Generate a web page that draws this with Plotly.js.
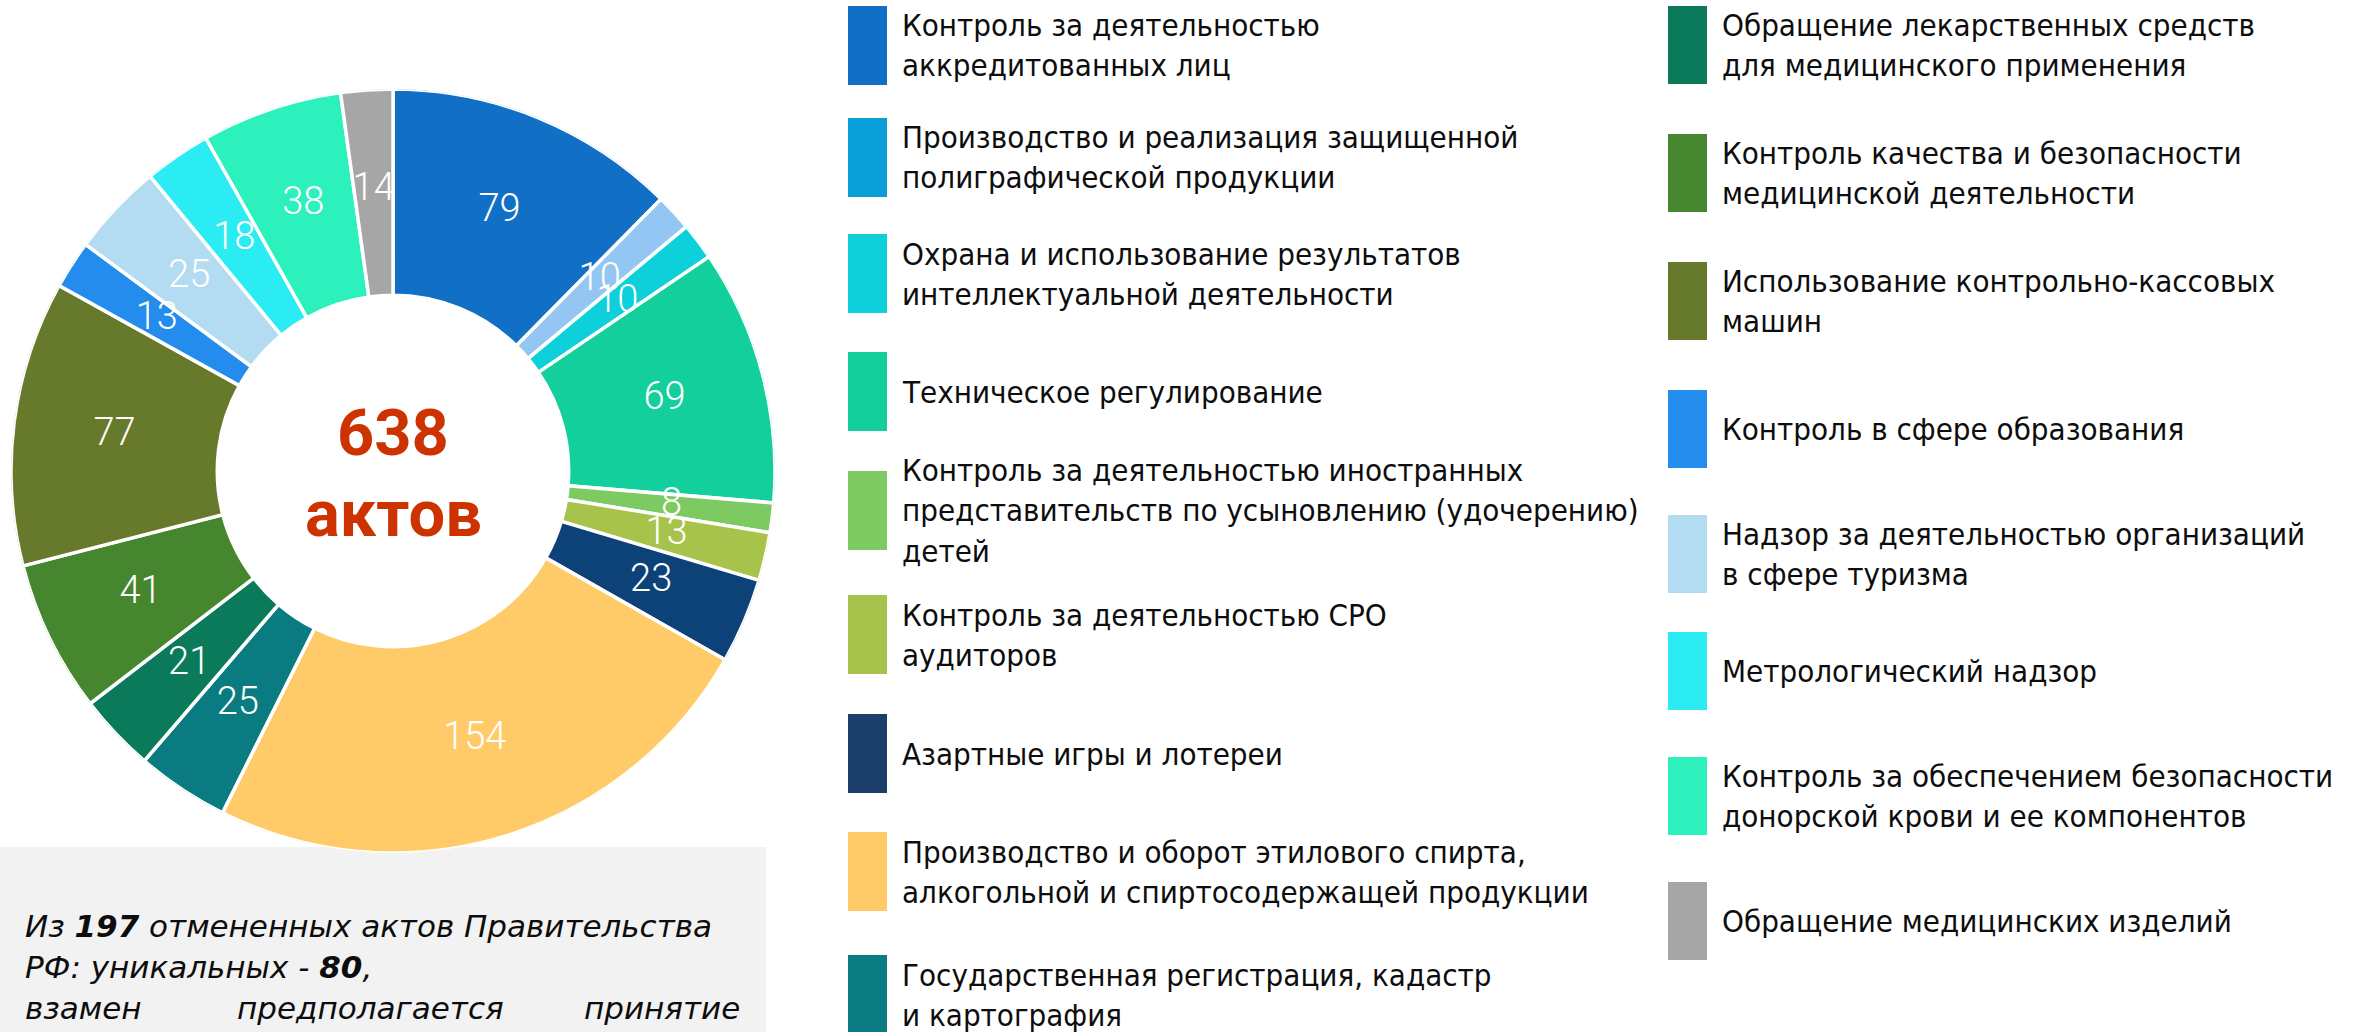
<!DOCTYPE html>
<html>
<head>
<meta charset="utf-8">
<script src="https://cdn.plot.ly/plotly-3.0.1.min.js"></script>
<style>
html, body { margin: 0; padding: 0; background: #ffffff; }
#chart { width: 2366px; height: 1032px; }
</style>
</head>
<body>
<div id="chart"></div>
<script>
// ---------------- DATA ----------------
const categories = [
  "Контроль за деятельностью<br>аккредитованных лиц",
  "Производство и реализация защищенной<br>полиграфической продукции",
  "Охрана и использование результатов<br>интеллектуальной деятельности",
  "Техническое регулирование",
  "Контроль за деятельностью иностранных<br>представительств по усыновлению (удочерению)<br>детей",
  "Контроль за деятельностью СРО<br>аудиторов",
  "Азартные игры и лотереи",
  "Производство и оборот этилового спирта,<br>алкогольной и спиртосодержащей продукции",
  "Государственная регистрация, кадастр<br>и картография",
  "Обращение лекарственных средств<br>для медицинского применения",
  "Контроль качества и безопасности<br>медицинской деятельности",
  "Использование контрольно-кассовых<br>машин",
  "Контроль в сфере образования",
  "Надзор за деятельностью организаций<br>в сфере туризма",
  "Метрологический надзор",
  "Контроль за обеспечением безопасности<br>донорской крови и ее компонентов",
  "Обращение медицинских изделий"
];
const values = [79, 10, 10, 69, 8, 13, 23, 154, 25, 21, 41, 77, 13, 25, 18, 38, 14];
const sliceColors = [
  "#1170C5", "#93C6F2", "#0DD0DB", "#12CF9B", "#7DCA62", "#A7C34B", "#0C4277",
  "#FECB68", "#0A7B80", "#0B7A5A", "#46862F", "#67792A", "#238CEC", "#B3DCF2",
  "#2BEBF3", "#2CF1BC", "#A6A6A6"
];
const legendColors = [
  "#1170C5", "#0A9ED8", "#0DD0DB", "#12CF9B", "#7DCA62", "#A7C34B", "#1B3F6A",
  "#FECB68", "#0A7B80", "#0B7A5A", "#46862F", "#67792A", "#238CEC", "#B3DCF2",
  "#2BEBF3", "#2CF1BC", "#A6A6A6"
];
const centerUnit = "актов";
const noteLine1 = "Из <b>197</b> отмененных актов Правительства";
const noteLine2 = "РФ: уникальных - <b>80</b>,";
const noteLine3Words = ["взамен", "предполагается", "принятие"];

// ---------------- LAYOUT CONSTANTS ----------------
const W = 2366, H = 1032;
const px = x => x / W;
const py = y => 1 - y / H;

const pieCx = 393, pieCy = 471, pieR = 382;
const holeFrac = 0.46;
const labelRadius = 0.735;

const col1 = { x0: 848, x1: 887, tx: 900, h: 79, tops: [6, 118, 234, 352, 471, 595, 714, 832, 955] };
const col2 = { x0: 1668, x1: 1707, tx: 1720, h: 78, tops: [6, 134, 262, 390, 515, 632, 757, 882] };

const legendFont = { family: "DejaVu Sans Condensed, DejaVu Sans, sans-serif", size: 31, color: "#0d0d0d" };
const noteFont = { family: "DejaVu Sans, sans-serif", size: 31, color: "#0d0d0d", style: "italic" };

// ---------------- DERIVED ----------------
const total = values.reduce((a, b) => a + b, 0);
const widths = values.map(v => v / total * 360);
const mids = [];
let cum = 0;
values.forEach(v => { mids.push((cum + v / 2) / total * 360); cum += v; });

const slices = {
  type: "barpolar",
  theta: mids,
  width: widths,
  r: values.map(() => 1 - holeFrac),
  base: values.map(() => holeFrac),
  text: categories,
  marker: { color: sliceColors, line: { color: "#ffffff", width: 3.5 } },
  hovertemplate: "%{text}: %{customdata}<extra></extra>",
  customdata: values,
  showlegend: false
};

const labels = {
  type: "scatterpolar",
  mode: "text",
  theta: mids,
  r: values.map(() => labelRadius),
  text: values.map(String),
  textposition: "middle center",
  textfont: { family: "Roboto, sans-serif", weight: 300, size: 38, color: "#ffffff" },
  hoverinfo: "skip",
  cliponaxis: false,
  showlegend: false
};

const shapes = [];
const annotations = [];

// note box
shapes.push({ type: "rect", xref: "paper", yref: "paper", layer: "below",
  x0: px(0), x1: px(766), y0: py(1032), y1: py(847),
  fillcolor: "#F2F2F2", line: { width: 0 } });

// legend
categories.forEach((cat, i) => {
  const col = i < col1.tops.length ? col1 : col2;
  const k = i < col1.tops.length ? i : i - col1.tops.length;
  const top = col.tops[k];
  shapes.push({ type: "rect", xref: "paper", yref: "paper",
    x0: px(col.x0), x1: px(col.x1), y0: py(top + col.h), y1: py(top),
    fillcolor: legendColors[i], line: { width: 0 } });
  annotations.push({ xref: "paper", yref: "paper", x: px(col.tx), y: py(top + col.h / 2),
    xanchor: "left", yanchor: "middle", align: "left", showarrow: false,
    text: cat, font: legendFont });
});

// centre total
annotations.push({ xref: "paper", yref: "paper", x: px(pieCx), y: py(433),
  xanchor: "center", yanchor: "middle", showarrow: false, text: String(total),
  font: { family: "Roboto, sans-serif", weight: 700, size: 65, color: "#CC3300" } });
annotations.push({ xref: "paper", yref: "paper", x: px(pieCx), y: py(514),
  xanchor: "center", yanchor: "middle", showarrow: false, text: centerUnit,
  font: { family: "Roboto, sans-serif", weight: 700, size: 65, color: "#CC3300" } });

// note text
annotations.push({ xref: "paper", yref: "paper", x: px(23), y: py(926),
  xanchor: "left", yanchor: "middle", showarrow: false, text: noteLine1, font: noteFont });
annotations.push({ xref: "paper", yref: "paper", x: px(23), y: py(967),
  xanchor: "left", yanchor: "middle", showarrow: false, text: noteLine2, font: noteFont });
const l3x = [23, 370, 742], l3anchor = ["left", "center", "right"];
noteLine3Words.forEach((w, i) => {
  annotations.push({ xref: "paper", yref: "paper", x: px(l3x[i]), y: py(1008),
    xanchor: l3anchor[i], yanchor: "middle", showarrow: false, text: w, font: noteFont });
});

const layout = {
  width: W, height: H,
  margin: { l: 0, r: 0, t: 0, b: 0, pad: 0 },
  paper_bgcolor: "#ffffff",
  showlegend: false,
  polar: {
    domain: { x: [px(pieCx - pieR), px(pieCx + pieR)], y: [py(pieCy + pieR), py(pieCy - pieR)] },
    bgcolor: "rgba(0,0,0,0)",
    hole: 0,
    bargap: 0,
    radialaxis: { visible: false, range: [0, 1], showgrid: false, showline: false, showticklabels: false, ticks: "" },
    angularaxis: { visible: false, rotation: 90, direction: "clockwise", showgrid: false, showline: false, showticklabels: false, ticks: "" }
  },
  shapes: shapes,
  annotations: annotations
};

Plotly.newPlot("chart", [slices, labels], layout, { displayModeBar: false, staticPlot: true });
</script>
</body>
</html>
